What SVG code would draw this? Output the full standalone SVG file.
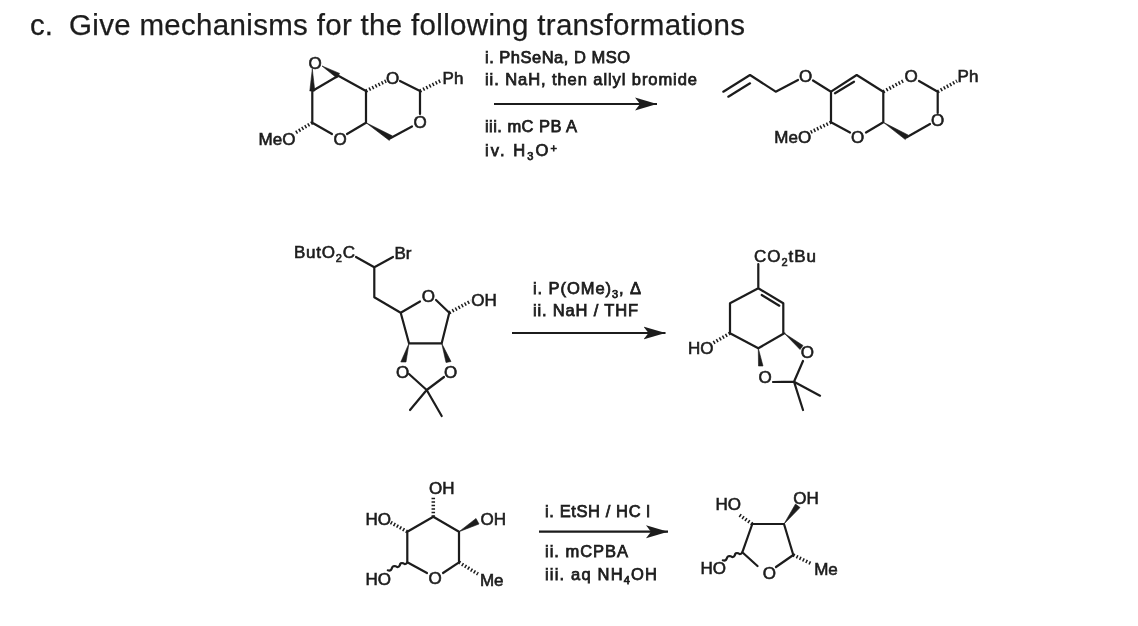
<svg xmlns="http://www.w3.org/2000/svg" width="1138" height="626" viewBox="0 0 1138 626">
<style>
text{font-family:"Liberation Sans",Arial,sans-serif;fill:#1c1c1c}
.t{font-size:29.500px;stroke:#1c1c1c;stroke-width:.25}
.a{font-size:17px;stroke:#1c1c1c;stroke-width:.6}
.r{font-size:16.500px;stroke:#1c1c1c;stroke-width:.75}
.m{text-anchor:middle}
.b{fill:none;stroke:#1c1c1c;stroke-width:2.200;stroke-linecap:round;stroke-linejoin:round}
.h{fill:none;stroke:#1c1c1c;stroke-width:3.500;stroke-dasharray:1.500 2}
.w{fill:#1c1c1c;stroke:#1c1c1c;stroke-width:.6;stroke-linejoin:round}
.l{stroke:#1c1c1c;stroke-width:2.200;fill:none}
.s{font-size:11px}
</style>
<defs>
<marker id="ah" markerUnits="userSpaceOnUse" markerWidth="24" markerHeight="14" refX="22" refY="7" orient="auto">
<path d="M0 0.500L22 7L0 13.500L5 7Z" fill="#1c1c1c"/>
</marker>
<filter id="soft" x="0" y="0" width="100%" height="100%"><feGaussianBlur stdDeviation="0.45"/></filter>
</defs>
<rect width="1138" height="626" fill="#fff"/>
<g filter="url(#soft)">
<text class="t" y="35"><tspan x="30">c.</tspan> <tspan x="69" textLength="676" lengthAdjust="spacing">Give mechanisms for the following transformations</tspan></text>

<g id="connectors">
<line class="l" x1="494" y1="104" x2="657" y2="104" marker-end="url(#ah)"/>
<line class="l" x1="512" y1="333" x2="665.500" y2="333" marker-end="url(#ah)"/>
<line class="l" x1="539" y1="531.700" x2="668" y2="531.700" marker-end="url(#ah)"/>
</g>

<g id="reagents-1" class="r">
<text x="485" y="63" textLength="145">i. PhSeNa, D MSO</text>
<text x="485" y="85" textLength="212">ii. NaH, then allyl bromide</text>
<text x="485" y="132" textLength="92">iii. mC PB A</text>
<text x="485" y="156" textLength="72">iv. H<tspan class="s" dy="4">3</tspan><tspan dy="-4">O</tspan><tspan class="s" dy="-4">+</tspan></text>
</g>
<g id="reagents-2" class="r">
<text x="533" y="294" textLength="108">i. P(OMe)<tspan class="s" dy="4">3</tspan><tspan dy="-4">, Δ</tspan></text>
<text x="533" y="316" textLength="105">ii. NaH / THF</text>
</g>
<g id="reagents-3" class="r">
<text x="545" y="517" textLength="105">i. EtSH / HC l</text>
<text x="545" y="557" textLength="83">ii. mCPBA</text>
<text x="545" y="580" textLength="112">iii.  aq NH<tspan class="s" dy="4">4</tspan><tspan dy="-4">OH</tspan></text>
</g>

<g id="mol-1">
<path class="b" d="M312.300 91L338.300 75.700L366 91V122.700L347 134M332 134L312.300 122.700V91M390.700 138L412 126.500M420 114V91L400 81"/>
<path class="w" d="M312.300 69L309.800 91H314.800ZM322 66L336.800 78L339.600 73.400ZM366 122.700L389.300 140.400L392.200 135.800Z"/>
<path class="h" d="M366 91L386 81M420 91L442 80M312.300 122.700L295 133"/>
<g class="a">
<text class="m" x="315" y="68.500">O</text><text class="m" x="392.700" y="83.700">O</text><text class="m" x="420" y="128.400">O</text><text class="m" x="340" y="144.700">O</text><text class="m" x="453" y="83.700">Ph</text><text class="m" x="277" y="144.700">MeO</text>
</g>
</g>

<g id="mol-2">
<path class="b" d="M723.300 91.700L750 75L775.700 91.700L798 80M728.300 96.700L750 83.300M813 80.500L831 91.700L856.700 75L883.300 91.700V122.300L866 132.500M850 132.500L831 122.300V91.700M835 93.300L854 81.700M906.700 137.300L930 124M937.700 113V91.700L919 81"/>
<path class="w" d="M883.300 122.300L905.300 139.500L908.100 135Z"/>
<path class="h" d="M883.300 91.700L903 81M937.700 91.700L957 81M831 122.300L810 132.500"/>
<g class="a">
<text class="m" x="805.700" y="81.700">O</text><text class="m" x="911" y="81.700">O</text><text class="m" x="937.700" y="126.400">O</text><text class="m" x="857.700" y="143">O</text><text class="m" x="968" y="81.700">Ph</text><text class="m" x="792.700" y="143">MeO</text>
</g>
</g>

<g id="mol-3">
<path class="b" d="M356 257L374.300 267.300L393 257M374.300 267.300V297.300L400.700 312.700L420 301.500M436 300L449.300 312.700L441.700 343.300H409L400.700 312.700M409 374L426.700 390L444 377M426.700 390L410 410M426.700 390L441.700 416"/>
<path class="w" d="M409 343.300L406 362H400.800ZM441.700 343.300L451 361.500L446 362.500Z"/>
<path class="h" d="M449.300 312.700L471 301"/>
<g class="a">
<text x="294" y="258" textLength="61">ButO<tspan class="s" dy="4">2</tspan><tspan dy="-4">C</tspan></text>
<text class="m" x="403" y="258.500">Br</text><text class="m" x="428.300" y="302.400">O</text><text class="m" x="484" y="305.700">OH</text><text class="m" x="402.700" y="378">O</text><text class="m" x="450.700" y="378">O</text>
</g>
</g>

<g id="mol-4">
<path class="b" d="M758.300 264V288.300L783.300 303.300V333.300M761.700 295L779.300 305.700M758.300 288.300L730 303.300V333.300L758.300 348.300L784.300 333.300M773 382L794 381.700L803 361M794 381.700L820 395.700M794 381.700L803 410"/>
<path class="w" d="M784.300 333.300L800 349.500L803 345.500ZM758.300 348.300L758.500 366H763Z"/>
<path class="h" d="M730 333.300L713 343"/>
<g class="a">
<text x="754" y="262" textLength="62">CO<tspan class="s" dy="4">2</tspan><tspan dy="-4">tBu</tspan></text>
<text class="m" x="807.300" y="358">O</text><text class="m" x="765" y="383">O</text><text class="m" x="700.700" y="354">HO</text>
</g>
</g>

<g id="mol-5">
<path class="b" d="M433.300 516.700L459 531.700V562.300L443 573M427 573L407.300 562.300V531.700L433.300 516.700"/>
<path class="w" d="M459 531.700L476 518.500L479 524Z"/>
<path class="h" d="M433.300 516.700V496M407.300 531.700L390 522M459 562.300L478 574"/>
<path class="b" stroke-width="1.500" d="M407.300 562.300q-2 3 -4 1q-3 -1 -3.500 2q-2 3 -4 1q-3 -1 -4 2q-1 3 -4 2"/>
<g class="a">
<text class="m" x="441.700" y="494">OH</text><text class="m" x="378.300" y="525">HO</text><text class="m" x="493.300" y="525">OH</text><text class="m" x="378.300" y="584.700">HO</text><text class="m" x="435" y="584">O</text><text class="m" x="491.700" y="586.400">Me</text>
</g>
</g>

<g id="mol-6">
<path class="b" d="M752.300 524H784L793.300 555L776 567M757.500 566L742.300 552.300L752.300 524"/>
<path class="w" d="M784 524L800 507.500L795.500 504Z"/>
<path class="h" d="M752.300 524L738 514M793.300 555L812 564"/>
<path class="b" stroke-width="1.500" d="M742.300 552.300q-2 3 -4 1q-3 -1 -3.500 2q-2 3 -4 1q-3 -1 -4 2q-1 3 -4 2"/>
<g class="a">
<text class="m" x="728.300" y="510">HO</text><text class="m" x="806" y="504">OH</text><text class="m" x="713.300" y="574">HO</text><text class="m" x="769.300" y="579">O</text><text class="m" x="826" y="575">Me</text>
</g>
</g>
</g>
</svg>
